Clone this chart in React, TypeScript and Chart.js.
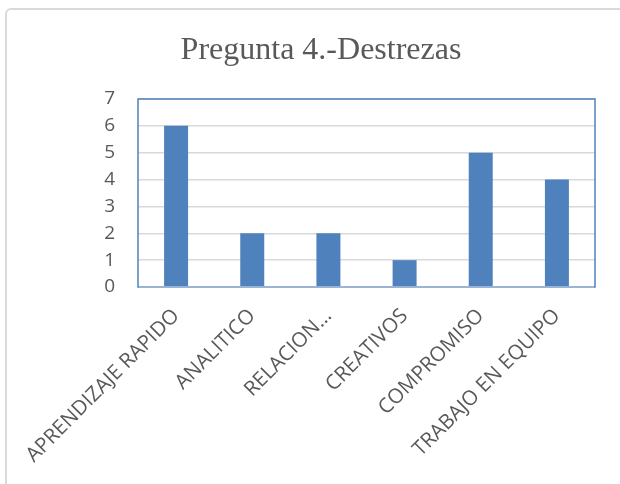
import React, { useEffect, useRef } from "react";
import { Chart, registerables } from "chart.js";

Chart.register(...registerables);

const titleText = "Pregunta 4.-Destrezas";
const categories = [
  "APRENDIZAJE RAPIDO",
  "ANALITICO",
  "RELACION…",
  "CREATIVOS",
  "COMPROMISO",
  "TRABAJO EN EQUIPO",
];
const values = [6, 2, 2, 1, 5, 4];
const yMin = 0;
const yMax = 7;
const yStep = 1;

const titlePlugin = {
  id: "customTitle",
  afterDraw(chart: any) {
    const ctx = chart.ctx;
    ctx.save();
    ctx.font = '32px "Liberation Serif", "Times New Roman", serif';
    ctx.fillStyle = "#595959";
    ctx.textAlign = "center";
    ctx.textBaseline = "alphabetic";
    ctx.fillText(titleText, 321, 59);
    ctx.restore();
  },
};

const framePlugin = {
  id: "plotFrame",
  afterDatasetsDraw(chart: any) {
    const { ctx, chartArea } = chart;
    ctx.save();
    ctx.strokeStyle = "#4F81BD";
    ctx.lineWidth = 1.5;
    ctx.strokeRect(
      chartArea.left,
      chartArea.top,
      chartArea.right - chartArea.left,
      chartArea.bottom - chartArea.top
    );
    ctx.strokeStyle = "#a9bedb";
    ctx.beginPath();
    ctx.moveTo(chartArea.left + 1, chartArea.bottom);
    ctx.lineTo(chartArea.right - 1, chartArea.bottom);
    ctx.stroke();
    ctx.restore();
  },
};

export default function App() {
  const canvasRef = useRef<HTMLCanvasElement | null>(null);

  useEffect(() => {
    if (!canvasRef.current) return;
    const chart = new Chart(canvasRef.current, {
      type: "bar",
      data: {
        labels: categories,
        datasets: [
          {
            data: values,
            backgroundColor: "#4F81BD",
            borderWidth: 0,
            barPercentage: 0.315,
            categoryPercentage: 1,
          },
        ],
      },
      options: {
        animation: false,
        responsive: false,
        maintainAspectRatio: false,
        layout: { padding: { top: 99, right: 25, bottom: 0, left: 0 } },
        plugins: {
          legend: { display: false },
          title: { display: false },
          tooltip: { enabled: false },
        },
        scales: {
          x: {
            grid: { display: false, drawTicks: false },
            border: { display: false },
            ticks: {
              color: "#595959",
              font: { family: '"Open Sans", sans-serif', size: 20.5 },
              minRotation: 45,
              maxRotation: 45,
              autoSkip: false,
              padding: 17,
            },
            afterFit(scale: any) {
              scale.height = 197;
            },
          },
          y: {
            min: yMin,
            max: yMax,
            grid: { color: "#d9d9d9", lineWidth: 1.5, drawTicks: false },
            border: { display: false },
            ticks: {
              stepSize: yStep,
              color: "#595959",
              font: { family: '"Open Sans", sans-serif', size: 19 },
              padding: 23,
            },
            afterFit(scale: any) {
              scale.width = 138;
            },
          },
        },
      },
      plugins: [titlePlugin, framePlugin],
    });
    return () => chart.destroy();
  }, []);

  return (
    <div
      style={{
        position: "fixed",
        left: 0,
        top: 0,
        width: 620,
        height: 484,
        background: "#ffffff",
        overflow: "hidden",
      }}
    >
      <div
        style={{
          position: "absolute",
          left: 5,
          top: 8,
          width: 660,
          height: 520,
          border: "2px solid #d9d9d9",
          borderRadius: 6,
          boxSizing: "border-box",
        }}
      />
      <canvas
        ref={canvasRef}
        width={620}
        height={484}
        style={{ position: "absolute", left: 0, top: 0, width: 620, height: 484 }}
      />
    </div>
  );
}
